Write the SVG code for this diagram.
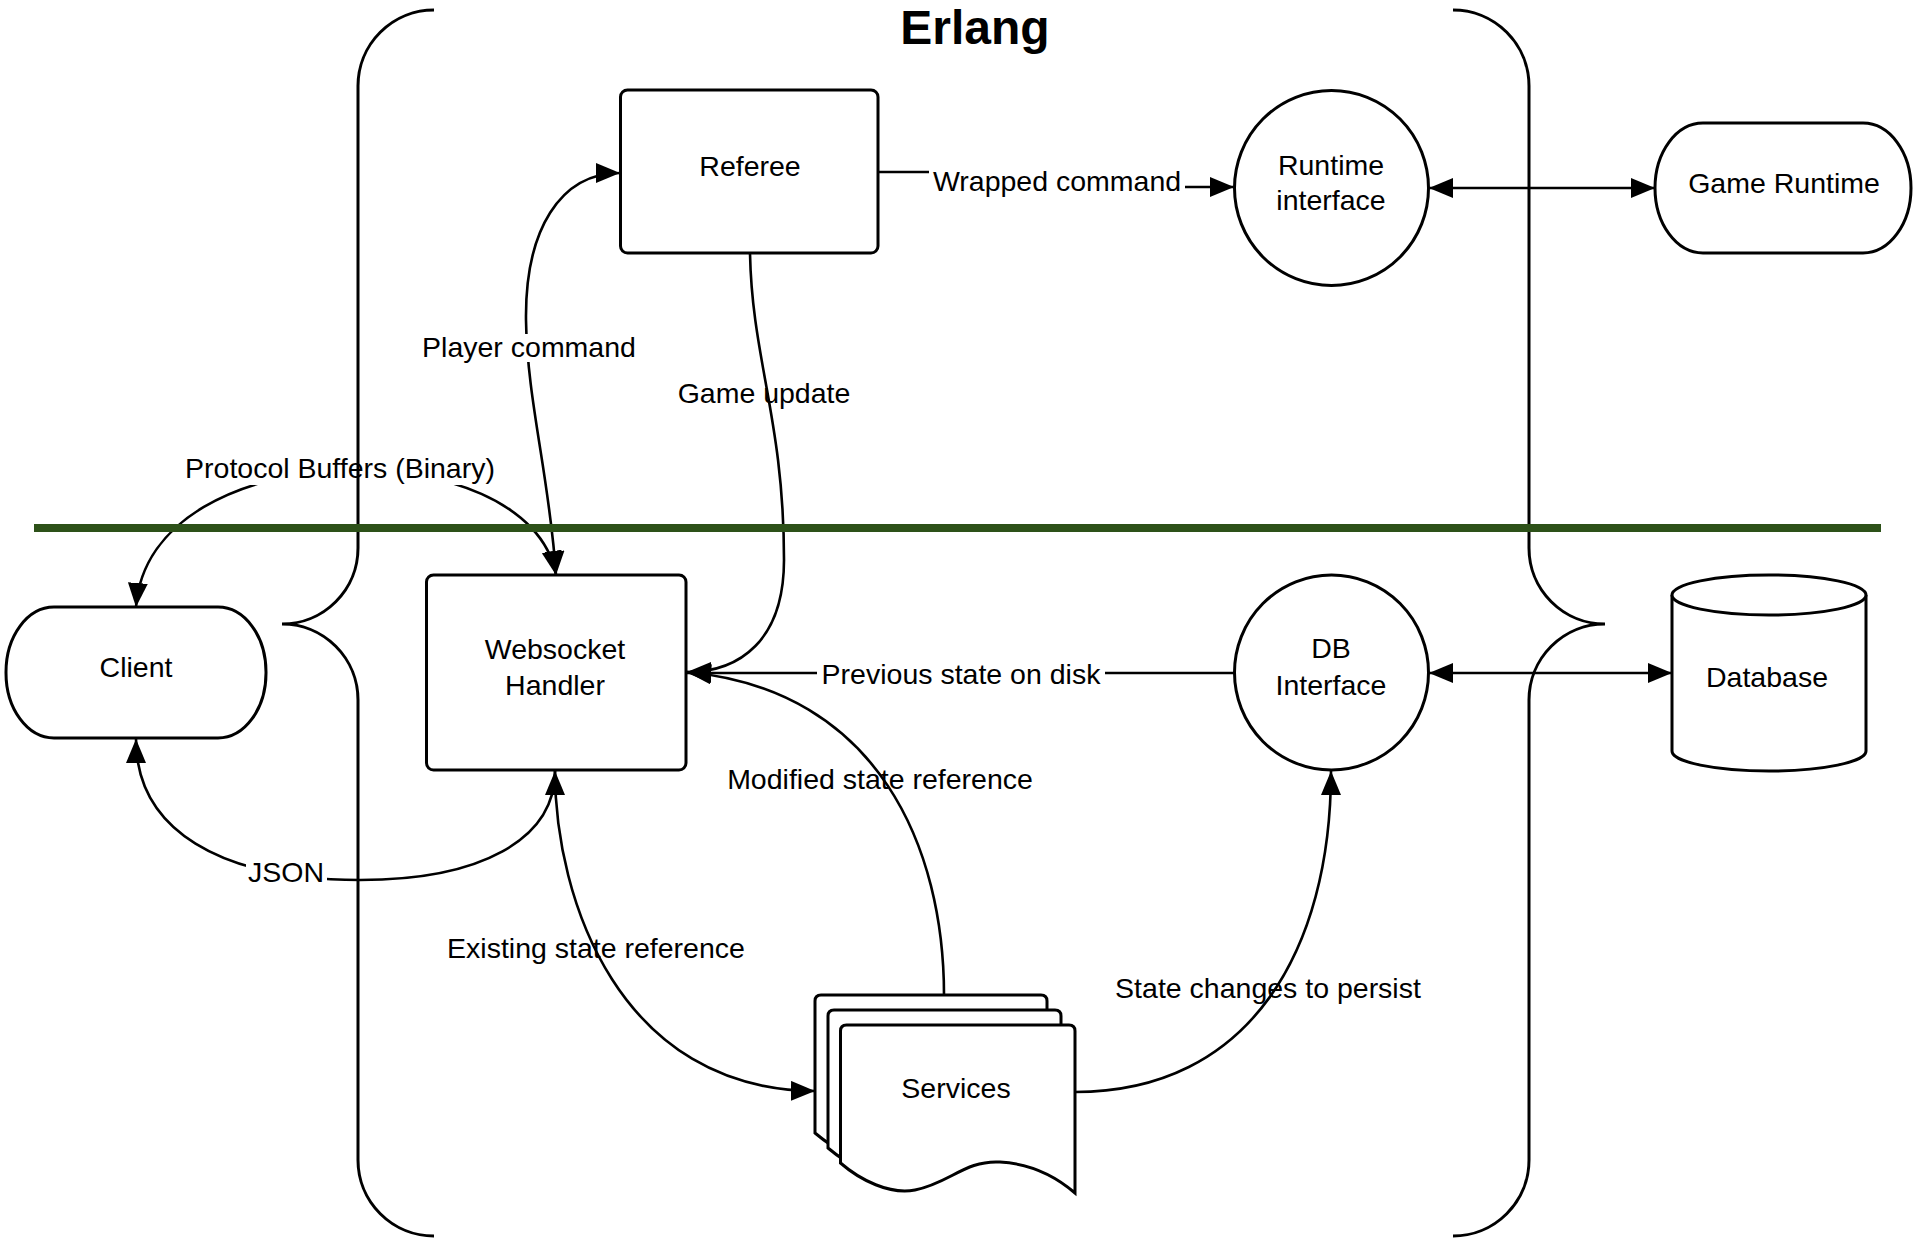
<svg xmlns="http://www.w3.org/2000/svg" width="1915" height="1243" viewBox="0 0 1915 1243">
<style>
  .node { fill: #ffffff; stroke: #000000; stroke-width: 3; }
  .conn { fill: none; stroke: #000000; stroke-width: 2.6; }
  .brace { fill: none; stroke: #000000; stroke-width: 3; }
  .lbl { font-family: "Liberation Sans", Arial, sans-serif; font-size: 28.5px; fill: #000000; text-anchor: middle; }
  .bg { fill: #ffffff; stroke: none; }
  .title { font-family: "Liberation Sans", Arial, sans-serif; font-size: 48px; font-weight: bold; fill: #000000; text-anchor: middle; }
</style>
<defs>
  <marker id="arrow" markerUnits="userSpaceOnUse" markerWidth="26" markerHeight="22" refX="24" refY="10" orient="auto-start-reverse">
    <path d="M0,0 L24,10 L0,20 Z" fill="#000000"/>
  </marker>
</defs>
<rect width="1915" height="1243" fill="#ffffff"/>

<text class="title" x="975" y="44">Erlang</text>

<g id="connectors">
  <path class="conn" d="M878,172 H960 L1160,187 H1234" marker-end="url(#arrow)"/>
  <path class="conn" d="M1429,188 H1655" marker-start="url(#arrow)" marker-end="url(#arrow)"/>
  <path class="conn" d="M1429,673 H1672" marker-start="url(#arrow)" marker-end="url(#arrow)"/>
  <path class="conn" d="M1235,673 H687" marker-end="url(#arrow)"/>
  <path class="conn" d="M620,173 C560,173 525,230 526,320 C527,400 550,480 556,575" marker-start="url(#arrow)" marker-end="url(#arrow)"/>
  <path class="conn" d="M750,253 C752,360 784,420 784,560 C784,640 740,672 687,672" marker-end="url(#arrow)"/>
  <path class="conn" d="M136,607 C150,430 530,430 556,575" marker-start="url(#arrow)" marker-end="url(#arrow)"/>
  <path class="conn" d="M944,995 C944,850 880,690 687,672" marker-end="url(#arrow)"/>
  <path class="conn" d="M136,739 C136,830 220,880 360,880 C480,880 555,840 555,771" marker-start="url(#arrow)" marker-end="url(#arrow)"/>
  <path class="conn" d="M555,771 C555,900 620,1090 815,1091" marker-end="url(#arrow)"/>
  <path class="conn" d="M1075,1092 C1250,1092 1331,950 1331,771" marker-end="url(#arrow)"/>

  <rect class="bg" x="929" y="167" width="256" height="32"/>
  <text class="lbl" x="1057" y="191">Wrapped command</text>
  <rect class="bg" x="817" y="658" width="288" height="32"/>
  <text class="lbl" x="961" y="684">Previous state on disk</text>
  <rect class="bg" x="420" y="334" width="218" height="28"/>
  <text class="lbl" x="529" y="357">Player command</text>
  <text class="lbl" x="764" y="403">Game update</text>
  <rect class="bg" x="182" y="455" width="316" height="30"/>
  <text class="lbl" x="340" y="478">Protocol Buffers (Binary)</text>
  <text class="lbl" x="880" y="789">Modified state reference</text>
  <rect class="bg" x="246" y="858" width="81" height="30"/>
  <text class="lbl" x="286" y="882">JSON</text>
  <text class="lbl" x="596" y="958">Existing state reference</text>
  <text class="lbl" x="1268" y="998">State changes to persist</text>
</g>

<g id="erlang-boundary">
  <path class="brace" d="M434,10 A76,76 0 0 0 358,86 V548 A76,76 0 0 1 282,624 A76,76 0 0 1 358,700 V1160 A76,76 0 0 0 434,1236"/>
  <path class="brace" d="M1453,10 A76,76 0 0 1 1529,86 V548 A76,76 0 0 0 1605,624 A76,76 0 0 0 1529,700 V1160 A76,76 0 0 1 1453,1236"/>
</g>

<g id="divider">
  <line x1="34" y1="528" x2="1881" y2="528" stroke="#2d5119" stroke-width="8"/>
</g>

<g id="referee">
  <rect class="node" x="620.5" y="90" width="257.5" height="163" rx="7" ry="7"/>
  <text class="lbl" x="750" y="176">Referee</text>
</g>

<g id="runtime-interface">
  <ellipse class="node" cx="1331.5" cy="188" rx="97" ry="97.5"/>
  <text class="lbl" x="1331" y="175">Runtime</text>
  <text class="lbl" x="1331" y="210">interface</text>
</g>

<g id="game-runtime">
  <rect class="node" x="1655" y="123" width="256" height="130" rx="48" ry="65"/>
  <text class="lbl" x="1784" y="193">Game Runtime</text>
</g>

<g id="client">
  <rect class="node" x="6" y="607" width="260" height="131" rx="48" ry="65"/>
  <text class="lbl" x="136" y="677">Client</text>
</g>

<g id="websocket-handler">
  <rect class="node" x="426.5" y="575" width="259.5" height="195" rx="7" ry="7"/>
  <text class="lbl" x="555" y="659">Websocket</text>
  <text class="lbl" x="555" y="695">Handler</text>
</g>

<g id="db-interface">
  <ellipse class="node" cx="1331.5" cy="672.5" rx="97" ry="97.5"/>
  <text class="lbl" x="1331" y="658">DB</text>
  <text class="lbl" x="1331" y="695">Interface</text>
</g>

<g id="database">
  <path class="node" d="M1672,595 A97,20 0 0 1 1866,595 V751 A97,20 0 0 1 1672,751 Z"/>
  <path class="node" fill="none" d="M1672,595 A97,20 0 0 0 1866,595"/>
  <text class="lbl" x="1767" y="687">Database</text>
</g>

<g id="services">
  <path class="node" d="M815,1133 V1001 Q815,995 821,995 H1041 Q1047,995 1047,1001 V1163 C1032,1150 1007,1134 972,1132 C937,1130 922,1153 887,1160 C862,1165 835,1150 815,1133 Z"/>
  <path class="node" d="M828,1148 V1016 Q828,1010 834,1010 H1055 Q1061,1010 1061,1016 V1178 C1046,1165 1021,1149 986,1147 C951,1145 936,1168 901,1175 C876,1180 848,1165 828,1148 Z"/>
  <path class="node" d="M840.5,1163 V1031 Q840.5,1025 846.5,1025 H1069 Q1075,1025 1075,1031 V1193 C1060,1180 1035,1164 1000,1162 C965,1160 950,1183 915,1190 C890,1195 860,1180 840.5,1163 Z"/>
  <text class="lbl" x="956" y="1098">Services</text>
</g>
</svg>
